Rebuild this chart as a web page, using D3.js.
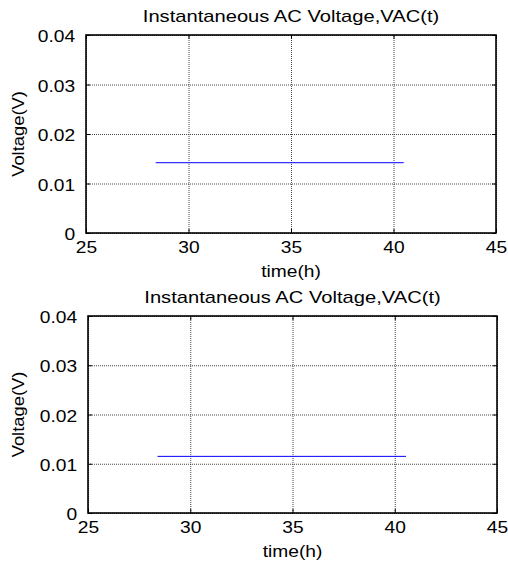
<!DOCTYPE html>
<html>
<head>
<meta charset="utf-8">
<script src="https://cdn.jsdelivr.net/npm/d3@7"></script>
<style>
  body { margin: 0; background: #fff; }
  text { font-family: "Liberation Sans", Arial, sans-serif; fill: #000; }
</style>
</head>
<body>
<script>
// tick values shared by both panels
var xTicks = [25, 30, 35, 40, 45];
var yTicks = [0, 0.01, 0.02, 0.03, 0.04];
var xDomain = [25, 45];
var yDomain = [0, 0.04];

// top panel series
var timeTop = [28.4, 40.5];
var voltTop = [0.0142, 0.0142];

// bottom panel series
var timeBottom = [28.4, 40.55];
var voltBottom = [0.0115, 0.0115];

var titleText = "Instantaneous AC Voltage,VAC(t)";
var xLabel = "time(h)";
var yLabel = "Voltage(V)";

var W = 508, H = 565;
var stretch = 1.2; // the picture's glyphs are a bit wide

var svg = d3.select("body").append("svg")
  .attr("width", W)
  .attr("height", H);

svg.append("rect").attr("width", W).attr("height", H).attr("fill", "#fff");

function drawPanel(left, top, w, h, xs, ys) {
  var x = d3.scaleLinear().domain(xDomain).range([0, w]);
  var y = d3.scaleLinear().domain(yDomain).range([h, 0]);

  var g = svg.append("g").attr("transform", "translate(" + left + "," + top + ")");

  // dotted grid
  var gx = g.append("g").attr("class", "grid")
    .attr("transform", "translate(0," + h + ")")
    .call(d3.axisBottom(x).tickValues(xTicks).tickSize(-h).tickFormat(""));
  var gy = g.append("g").attr("class", "grid")
    .call(d3.axisLeft(y).tickValues(yTicks).tickSize(-w).tickFormat(""));
  [gx, gy].forEach(function(s){
    s.select(".domain").remove();
    s.selectAll("line")
      .attr("stroke", "#333")
      .attr("stroke-width", 0.9)
      .attr("stroke-dasharray", "1,1");
  });

  // data line
  var pts = xs.map(function(d, i){ return [d, ys[i]]; });
  g.append("path")
    .datum(pts)
    .attr("fill", "none")
    .attr("stroke", "#0000ff")
    .attr("stroke-width", 1)
    .attr("d", d3.line().x(function(d){ return x(d[0]); }).y(function(d){ return y(d[1]); }));

  // inward ticks on all four sides
  var tk = 4;
  var axes = [
    g.append("g").attr("transform", "translate(0," + h + ")").call(d3.axisBottom(x).tickValues(xTicks).tickSize(-tk).tickFormat("")),
    g.append("g").call(d3.axisTop(x).tickValues(xTicks).tickSize(-tk).tickFormat("")),
    g.append("g").call(d3.axisLeft(y).tickValues(yTicks).tickSize(-tk).tickFormat("")),
    g.append("g").attr("transform", "translate(" + w + ",0)").call(d3.axisRight(y).tickValues(yTicks).tickSize(-tk).tickFormat(""))
  ];
  axes.forEach(function(a){
    a.select(".domain").remove();
    a.selectAll("line").attr("stroke", "#000").attr("stroke-width", 1);
  });

  // tick labels
  var xl = g.append("g").attr("transform", "translate(0," + h + ")")
    .call(d3.axisBottom(x).tickValues(xTicks).tickSize(0).tickPadding(9).tickFormat(d3.format("d")));
  var yl = g.append("g")
    .call(d3.axisLeft(y).tickValues(yTicks).tickSize(0).tickPadding(9)
      .tickFormat(function(d){ return d === 0 ? "0" : d3.format(".2f")(d); }));
  [xl, yl].forEach(function(a){
    a.select(".domain").remove();
    a.selectAll("text")
      .attr("font-size", 16)
      .attr("font-family", "Liberation Sans, Arial, sans-serif")
      .attr("fill", "#000")
      .attr("transform", "scale(" + stretch + ",1)");
  });
  yl.selectAll("text").attr("dy", "0.42em");

  // box
  g.append("rect")
    .attr("width", w).attr("height", h)
    .attr("fill", "none")
    .attr("stroke", "#000")
    .attr("stroke-width", 1.6);

  // title
  g.append("text")
    .attr("transform", "translate(" + (w / 2) + "," + (-13) + ") scale(1.26,1)")
    .attr("text-anchor", "middle")
    .attr("font-size", 16)
    .text(titleText);

  // x label
  g.append("text")
    .attr("transform", "translate(" + (w / 2) + "," + (h + 44) + ") scale(" + stretch + ",1)")
    .attr("text-anchor", "middle")
    .attr("font-size", 16)
    .text(xLabel);

  // y label
  g.append("text")
    .attr("transform", "translate(" + (-left + 24) + "," + (h / 2) + ") rotate(-90) scale(1.08,1)")
    .attr("text-anchor", "middle")
    .attr("font-size", 17)
    .text(yLabel);
}

drawPanel(86, 35, 410, 198, timeTop, voltTop);
drawPanel(88, 316, 409, 197, timeBottom, voltBottom);
</script>
</body>
</html>
